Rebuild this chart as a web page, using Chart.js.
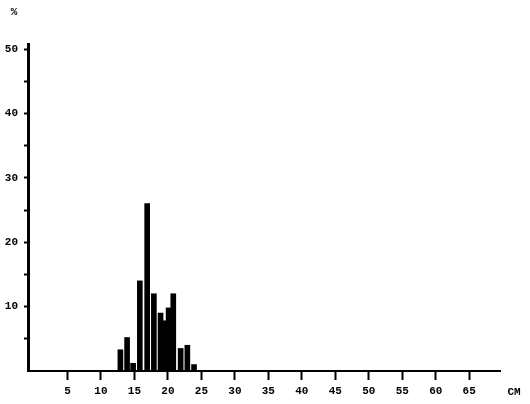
<!DOCTYPE html>
<html>
<head>
<meta charset="utf-8">
<script src="https://cdn.jsdelivr.net/npm/chart.js@4"></script>
<style>
html,body{margin:0;padding:0;background:#fff;}
#wrap{width:530px;height:404px;position:relative;}
</style>
</head>
<body>
<div id="wrap"><canvas id="c" width="530" height="404"></canvas></div>
<script>
// Length classes (cm) and percentage of individuals
const lengthCm = [12.9, 13.9, 14.8, 15.8, 16.9, 17.9, 18.9, 19.6, 20.1, 20.8, 21.9, 22.9, 23.9];
const percent  = [3.3, 5.2, 1.2, 14, 26, 12, 9, 7.8, 9.8, 12, 3.5, 4, 1];
// Tick labels
const xTickValues = [5, 10, 15, 20, 25, 30, 35, 40, 45, 50, 55, 60, 65];
const yTickValues = [5, 10, 15, 20, 25, 30, 35, 40, 45, 50];
const yLabelValues = [10, 20, 30, 40, 50];
const xUnit = 'CM';
const yUnit = '%';

const FONT = {family: "'Liberation Mono', 'DejaVu Sans Mono', monospace", size: 11, weight: 'bold'};

const unitLabels = {
  id: 'unitLabels',
  afterDraw(chart) {
    const ctx = chart.ctx;
    const xs = chart.scales.x;
    ctx.save();
    ctx.fillStyle = '#000';
    ctx.font = "bold 11px 'Liberation Mono', monospace";
    ctx.textAlign = 'center';
    ctx.textBaseline = 'middle';
    ctx.fillText(xUnit, xs.getPixelForValue(71.7), 392);
    ctx.fillText(yUnit, 14, 12);
    ctx.restore();
  }
};

new Chart(document.getElementById('c'), {
  type: 'bar',
  data: {
    datasets: [{
      data: lengthCm.map((x, i) => ({x: x, y: percent[i]})),
      backgroundColor: '#000',
      borderWidth: 0,
      barThickness: 5
    }]
  },
  options: {
    responsive: false,
    animation: false,
    layout: {padding: {left: 0, right: 30, top: 44, bottom: 0}},
    plugins: {legend: {display: false}, tooltip: {enabled: false}},
    scales: {
      x: {
        type: 'linear',
        offset: false,
        min: -0.9,
        max: 69.6,
        afterBuildTicks: s => { s.ticks = xTickValues.map(v => ({value: v})); },
        afterFit: s => { s.height = 33; },
        border: {display: true, color: '#000', width: 2},
        grid: {offset: false, drawOnChartArea: false, drawTicks: true, tickLength: 9, tickWidth: 2, tickColor: '#000'},
        ticks: {color: '#000', font: FONT, padding: 5, maxRotation: 0, autoSkip: false,
                callback: v => String(v)}
      },
      y: {
        min: 0,
        max: 50.8,
        afterBuildTicks: s => { s.ticks = yTickValues.map(v => ({value: v})); },
        afterFit: s => { s.width = 28; },
        border: {display: true, color: '#000', width: 3},
        grid: {drawOnChartArea: false, drawTicks: true, tickLength: 4, tickWidth: 2, tickColor: '#000'},
        ticks: {color: '#000', font: FONT, padding: 6, autoSkip: false,
                callback: v => yLabelValues.includes(v) ? String(v) : ''}
      }
    }
  },
  plugins: [unitLabels]
});
</script>
</body>
</html>
